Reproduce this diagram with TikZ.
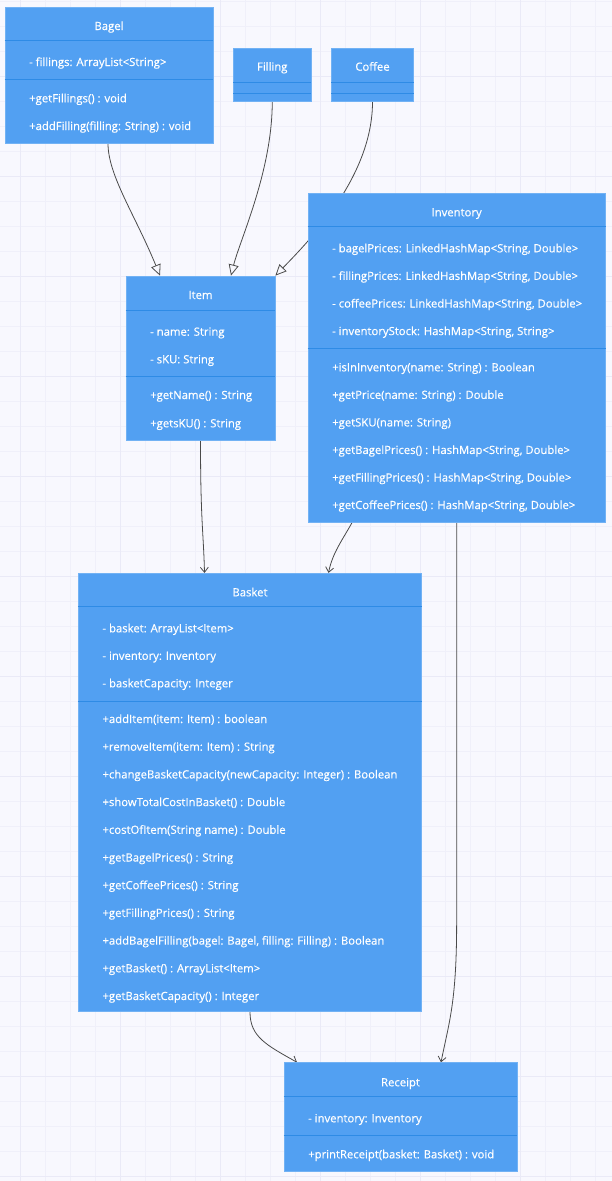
\documentclass[tikz,border=0pt]{standalone}
\usepackage{fontspec}
\setmainfont{Open Sans}
\newfontfamily\umlfont{Open Sans}[FakeBold=0.5]
\usetikzlibrary{arrows.meta}
\pgfdeclarelayer{gridlayer}
\pgfdeclarelayer{edgelayer}
\pgfsetlayers{gridlayer,edgelayer,main}

\definecolor{canvas}{HTML}{F8F8FE}
\definecolor{gridminor}{HTML}{F0F0FA}
\definecolor{gridmajor}{HTML}{EAEAF7}
\definecolor{boxfill}{HTML}{52A0F2}
\definecolor{boxline}{HTML}{72B2F4}
\definecolor{sepline}{HTML}{2E8BE6}
\definecolor{edgecol}{HTML}{4A4A4A}

\tikzset{
  umlbox/.style={rectangle, fill=boxfill, draw=boxline, line width=0.8pt, inner sep=0pt},
  sepl/.style={draw=sepline, line width=1pt},
  rowtext/.style={text=white, inner sep=0pt, font=\umlfont\fontsize{11.3}{13}\selectfont, anchor=base west},
  titletext/.style={text=white, inner sep=0pt, font=\umlfont\fontsize{11.3}{13}\selectfont, anchor=base},
  inh/.style={draw=edgecol, line width=0.8pt, -{Triangle[open, length=11pt, width=10pt, fill=canvas]}},
  dep/.style={draw=edgecol, line width=0.8pt, -{Straight Barb[length=5pt, width=8pt]}}
}

\begin{document}
\begin{tikzpicture}[x=1pt, y=-1pt]
\useasboundingbox (0,0) rectangle (612,1181);

% background grid
\begin{pgfonlayer}{gridlayer}
  \fill[canvas] (0,0) rectangle (612,1181);
  \foreach \x in {20,45,...,610} \draw[gridminor, line width=1pt] (\x,0) -- (\x,1181);
  \foreach \y in {1.7,26.7,...,1180} \draw[gridminor, line width=1pt] (0,\y) -- (612,\y);
  \foreach \x in {20,120,...,610} \draw[gridmajor, line width=1pt] (\x,0) -- (\x,1181);
  \foreach \y in {76.7,176.7,...,1180} \draw[gridmajor, line width=1pt] (0,\y) -- (612,\y);
\end{pgfonlayer}

% ---------- Bagel ----------
\node[umlbox, minimum width=208, minimum height=136] (bagel) at (109,75) {};
\draw[sepl] (bagel.west |- 0,40) -- (bagel.east |- 0,40);
\draw[sepl] (bagel.west |- 0,79) -- (bagel.east |- 0,79);
\node[titletext] (bagel-t) at (109,30) {Bagel};
\node[rowtext] (bagel-a1) at (29,66) {- fillings: ArrayList<String>};
\node[rowtext] (bagel-m1) at (29,102.3) {+getFillings() : void};
\node[rowtext] (bagel-m2) at (29,130) {+addFilling(filling: String) : void};

% ---------- Filling ----------
\node[umlbox, minimum width=77.5, minimum height=53.5] (filling) at (272.25,74.75) {};
\draw[sepl] (filling.west |- 0,82) -- (filling.east |- 0,82);
\draw[sepl] (filling.west |- 0,93.3) -- (filling.east |- 0,93.3);
\node[titletext] (filling-t) at (272.25,70.7) {Filling};

% ---------- Coffee ----------
\node[umlbox, minimum width=81.6, minimum height=53.5] (coffee) at (372.5,74.75) {};
\draw[sepl] (coffee.west |- 0,82) -- (coffee.east |- 0,82);
\draw[sepl] (coffee.west |- 0,93.3) -- (coffee.east |- 0,93.3);
\node[titletext] (coffee-t) at (372.5,70.7) {Coffee};

% ---------- Item ----------
\node[umlbox, minimum width=149, minimum height=164] (item) at (200.5,358) {};
\draw[sepl] (item.west |- 0,310) -- (item.east |- 0,310);
\draw[sepl] (item.west |- 0,376.7) -- (item.east |- 0,376.7);
\node[titletext] (item-t) at (200.5,299) {Item};
\node[rowtext] (item-a1) at (150,335.7) {- name: String};
\node[rowtext] (item-a2) at (150,363.3) {- sKU: String};
\node[rowtext] (item-m1) at (150,399) {+getName() : String};
\node[rowtext] (item-m2) at (150,427.3) {+getsKU() : String};

% ---------- Inventory ----------
\node[umlbox, minimum width=297.3, minimum height=328.7] (inventory) at (456.65,357.65) {};
\draw[sepl] (inventory.west |- 0,226.7) -- (inventory.east |- 0,226.7);
\draw[sepl] (inventory.west |- 0,348.3) -- (inventory.east |- 0,348.3);
\node[titletext] (inventory-t) at (456.65,216.3) {Inventory};
\foreach \txt [count=\i from 0] in {
    {- bagelPrices: LinkedHashMap<String, Double>},
    {- fillingPrices: LinkedHashMap<String, Double>},
    {- coffeePrices: LinkedHashMap<String, Double>},
    {- inventoryStock: HashMap<String, String>}}
  \node[rowtext] (inventory-a\i) at (332,252.3+27.6*\i) {\txt};
\foreach \txt [count=\i from 0] in {
    {+isInInventory(name: String) : Boolean},
    {+getPrice(name: String) : Double},
    {+getSKU(name: String)},
    {+getBagelPrices() : HashMap<String, Double>},
    {+getFillingPrices() : HashMap<String, Double>},
    {+getCoffeePrices() : HashMap<String, Double>}}
  \node[rowtext] (inventory-m\i) at (332,371.3+27.55*\i) {\txt};

% ---------- Basket ----------
\node[umlbox, minimum width=343.4, minimum height=438.4] (basket) at (250,792.5) {};
\draw[sepl] (basket.west |- 0,606) -- (basket.east |- 0,606);
\draw[sepl] (basket.west |- 0,701) -- (basket.east |- 0,701);
\node[titletext] (basket-t) at (250,596.3) {Basket};
\foreach \txt [count=\i from 0] in {
    {- basket: ArrayList<Item>},
    {- inventory: Inventory},
    {- basketCapacity: Integer}}
  \node[rowtext] (basket-a\i) at (102.3,632.3+27.5*\i) {\txt};
\foreach \txt [count=\i from 0] in {
    {+addItem(item: Item) : boolean},
    {+removeItem(item: Item) : String},
    {+changeBasketCapacity(newCapacity: Integer) : Boolean},
    {+showTotalCostInBasket() : Double},
    {+costOfItem(String name) : Double},
    {+getBagelPrices() : String},
    {+getCoffeePrices() : String},
    {+getFillingPrices() : String},
    {+addBagelFilling(bagel: Bagel, filling: Filling) : Boolean},
    {+getBasket() : ArrayList<Item>},
    {+getBasketCapacity() : Integer}}
  \node[rowtext] (basket-m\i) at (102.3,723+27.7*\i) {\txt};

% ---------- Receipt ----------
\node[umlbox, minimum width=233, minimum height=108.3] (receipt) at (400.5,1116.85) {};
\draw[sepl] (receipt.west |- 0,1096) -- (receipt.east |- 0,1096);
\draw[sepl] (receipt.west |- 0,1135.3) -- (receipt.east |- 0,1135.3);
\node[titletext] (receipt-t) at (400.5,1086.3) {Receipt};
\node[rowtext] (receipt-a1) at (308,1122.3) {- inventory: Inventory};
\node[rowtext] (receipt-m1) at (308,1158.3) {+printReceipt(basket: Basket) : void};

% ---------- relations ----------
\begin{pgfonlayer}{edgelayer}
  \draw[inh] ([xshift=-1]bagel.south) .. controls +(0,32) and +(-25,-61) .. ([xshift=-40.5]item.north);
  \draw[inh] (filling.south) .. controls +(0,69) and +(9,-36) .. ([xshift=30.5]item.north);
  \draw[inh] (coffee.south) .. controls +(0,74) and +(35,-36) .. (item.north east);
  \draw[dep] (item.south) .. controls +(0,80) and +(-1,-40) .. ([xshift=4]item.south |- basket.north);
  \draw[dep] ([xshift=-104.5]inventory.south) .. controls +(-10,18) and +(4,-20) .. ([xshift=78.5]basket.north);
  \draw[dep] (inventory.south) -- ++(0,400) .. controls +(0,80) and +(8,-40) .. ([xshift=40.5]receipt.north);
  \draw[dep] (basket.south) .. controls +(0,25) and +(-30,-17) .. ([xshift=-103.5]receipt.north);
\end{pgfonlayer}
\end{tikzpicture}
\end{document}
